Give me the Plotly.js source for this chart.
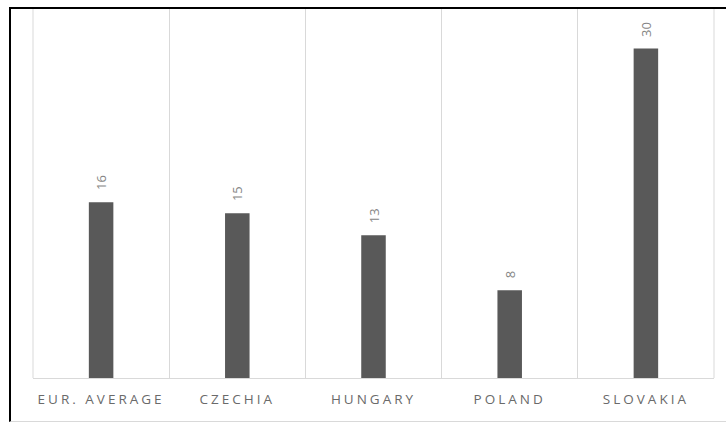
<!DOCTYPE html>
<html>
<head>
<meta charset="utf-8">
<script src="https://cdn.plot.ly/plotly-3.0.1.min.js"></script>
<style>
  html, body { margin: 0; padding: 0; background: #fff; }
  #wrap { position: relative; width: 726px; height: 423px; overflow: hidden; }
  #chart { position: absolute; left: 0; top: 0; width: 726px; height: 423px; }
  #frame {
    position: absolute; left: 9px; top: 7px; right: -2px; bottom: 1px;
    border-top: 2px solid #000; border-left: 2px solid #000;
    border-bottom: 1px solid #d9d9d9;
    pointer-events: none;
  }
  .xtick text { letter-spacing: 3px; }
</style>
</head>
<body>
<div id="wrap">
  <div id="chart"></div>
  <div id="frame"></div>
</div>
<script>
// Countries compared
const categories = ['EUR. AVERAGE', 'CZECHIA', 'HUNGARY', 'POLAND', 'SLOVAKIA'];
// Value per country
const values = [16, 15, 13, 8, 30];

const barTrace = {
  type: 'bar',
  x: categories,
  y: values,
  width: 0.18,
  marker: { color: '#595959' },
  hoverinfo: 'x+y'
};

// Rotated value labels sitting above each bar
const valueLabels = categories.map((c, i) => ({
  x: c,
  y: values[i],
  xref: 'x',
  yref: 'y',
  text: String(values[i]),
  showarrow: false,
  textangle: -90,
  yanchor: 'bottom',
  xanchor: 'center',
  yshift: 10,
  font: { family: 'Open Sans, sans-serif', size: 13, color: '#858585' }
}));

// Outer edges of the category grid (the axis only draws inner boundaries)
const edgeLines = [0, 1].map(px => ({
  type: 'line',
  xref: 'paper',
  yref: 'paper',
  x0: px, x1: px, y0: 0, y1: 1,
  line: { color: '#d9d9d9', width: 1 },
  layer: 'below'
}));

const layout = {
  width: 726,
  height: 423,
  margin: { l: 33, r: 12, t: 8, b: 45, pad: 0 },
  paper_bgcolor: '#ffffff',
  plot_bgcolor: '#ffffff',
  showlegend: false,
  xaxis: {
    type: 'category',
    tickson: 'boundaries',
    showgrid: true,
    gridcolor: '#d9d9d9',
    gridwidth: 1,
    showline: true,
    linecolor: '#d9d9d9',
    linewidth: 1,
    ticks: '',
    ticklabelstandoff: 9,
    tickfont: { family: 'Open Sans, sans-serif', size: 13.5, color: '#6a6a6a' },
    fixedrange: true
  },
  yaxis: {
    range: [0, 33.7],
    showgrid: false,
    zeroline: false,
    showticklabels: false,
    ticks: '',
    showline: false,
    fixedrange: true
  },
  shapes: edgeLines,
  annotations: valueLabels
};

Plotly.newPlot('chart', [barTrace], layout, { displayModeBar: false, staticPlot: true });
</script>
</body>
</html>
